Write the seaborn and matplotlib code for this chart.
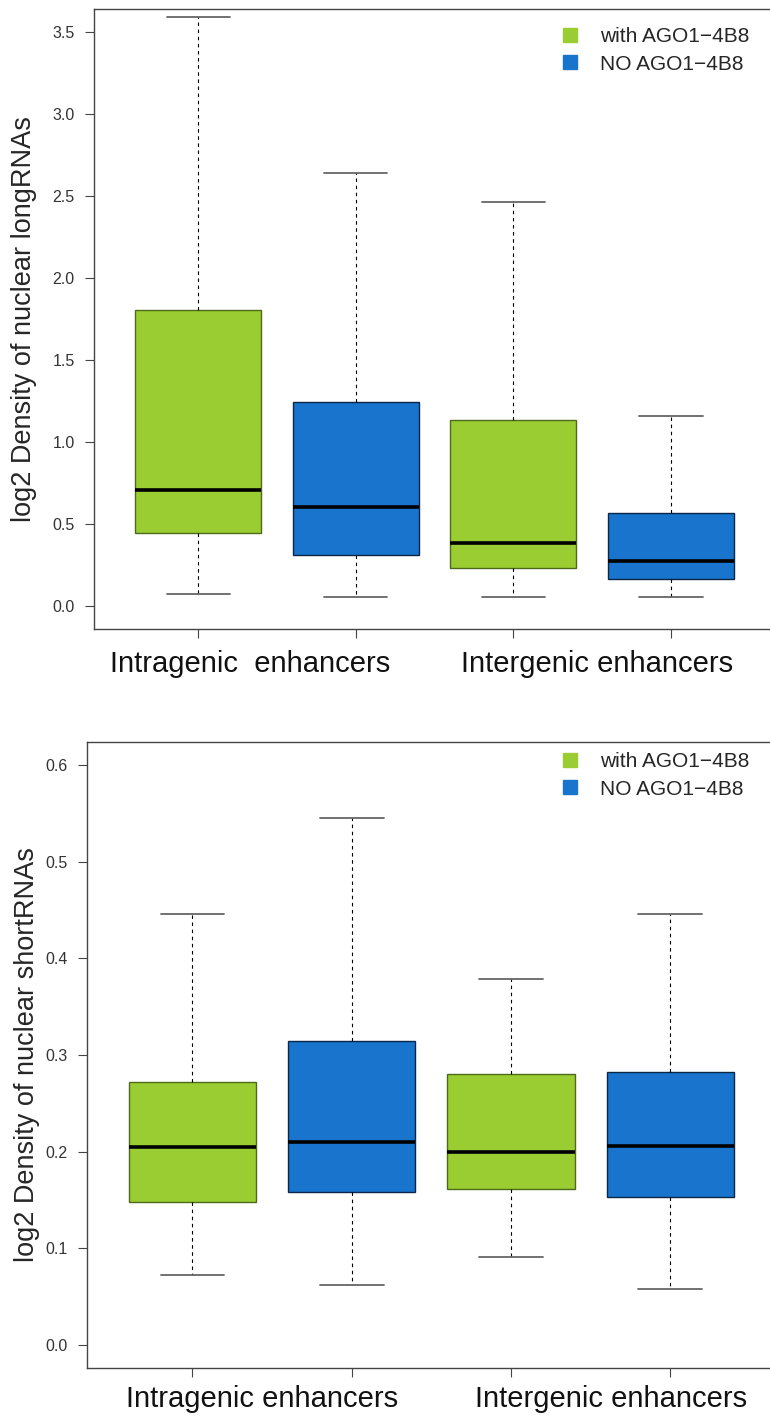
import numpy as np
import pandas as pd
import matplotlib
matplotlib.use("Agg")
import matplotlib.pyplot as plt
from matplotlib.lines import Line2D
from matplotlib.ticker import FormatStrFormatter
import seaborn as sns

# ---------------- data ----------------
boxes = ["Intragenic with", "Intragenic NO", "Intergenic with", "Intergenic NO"]
groups = ["with AGO1\u22124B8", "NO AGO1\u22124B8", "with AGO1\u22124B8", "NO AGO1\u22124B8"]
region_labels_top = ["Intragenic  enhancers", "Intergenic enhancers"]
region_labels_bottom = ["Intragenic enhancers", "Intergenic enhancers"]

long_min = [0.073, 0.055, 0.059, 0.057]
long_q1 = [0.449, 0.315, 0.234, 0.165]
long_med = [0.707, 0.604, 0.387, 0.279]
long_q3 = [1.805, 1.244, 1.136, 0.571]
long_max = [3.594, 2.643, 2.463, 1.159]

short_min = [0.072, 0.062, 0.091, 0.058]
short_q1 = [0.148, 0.158, 0.161, 0.153]
short_med = [0.205, 0.210, 0.199, 0.206]
short_q3 = [0.272, 0.314, 0.280, 0.282]
short_max = [0.446, 0.5455, 0.378, 0.446]

long_ticks = [0.0, 0.5, 1.0, 1.5, 2.0, 2.5, 3.0, 3.5]
short_ticks = [0.0, 0.1, 0.2, 0.3, 0.4, 0.5, 0.6]

GREEN = "#9ACD32"
BLUE = "#1874CD"
palette = {"with AGO1\u22124B8": GREEN, "NO AGO1\u22124B8": BLUE}
edge_for = {GREEN: "#4E6A1A", BLUE: "#0B2748"}


def summary_frame(mins, q1s, meds, q3s, maxs):
    rows = []
    for b, g, a, c, m, d, e in zip(boxes, groups, mins, q1s, meds, q3s, maxs):
        for v in (a, c, m, d, e):
            rows.append({"box": b, "group": g, "value": v})
    return pd.DataFrame(rows)


df_long = summary_frame(long_min, long_q1, long_med, long_q3, long_max)
df_short = summary_frame(short_min, short_q1, short_med, short_q3, short_max)

sns.set_theme(style="white")
plt.rcParams["font.family"] = ["Liberation Sans", "DejaVu Sans"]

fig = plt.figure(figsize=(7.7, 14.21), dpi=100)
W, H = 770.0, 1421.0


def px_axes(left, top, right, bottom):
    return fig.add_axes([left / W, 1 - bottom / H, (right - left) / W, (bottom - top) / H])


ax1 = px_axes(94.3, 9.3, 775.0, 629.3)
ax2 = px_axes(87.3, 741.7, 775.4, 1368.0)


def draw(ax, df, ylim, ticks, ylabel, labelpad, labels, label_x, label_y):
    sns.boxplot(data=df, x="box", y="value", hue="group", order=boxes,
                hue_order=list(palette.keys()), palette=palette, dodge=False,
                saturation=1, width=0.8, whis=(0, 100), linecolor="black",
                linewidth=1.0, showfliers=False, legend=False, ax=ax,
                whiskerprops={"linestyle": (0, (3.2, 3.2)), "linewidth": 0.8, "color": "black"},
                capprops={"linewidth": 1.3, "color": "#666666"},
                medianprops={"linewidth": 2.6, "color": "black"})
    for p in ax.patches:
        fc = matplotlib.colors.to_hex(p.get_facecolor()).upper()
        p.set_edgecolor(edge_for.get(fc, "black"))
        p.set_linewidth(1.0)
    ax.set_xlim(-0.66, 3.66)
    ax.set_ylim(*ylim)
    ax.set_yticks(ticks)
    ax.yaxis.set_major_formatter(FormatStrFormatter("%.1f"))
    ax.set_xticks(range(len(boxes)))
    ax.set_xticklabels([])
    ax.set_xlabel("")
    ax.set_ylabel(ylabel, fontsize=19.5, labelpad=labelpad)
    for s in ["left", "top", "bottom"]:
        ax.spines[s].set_visible(True)
        ax.spines[s].set_color("#444444")
        ax.spines[s].set_linewidth(1.0)
    ax.spines["right"].set_visible(False)
    ax.tick_params(axis="both", direction="out", length=6.5, width=0.8,
                   color="#444444", labelsize=11.5, labelcolor="#333333", pad=4,
                   left=True, bottom=True)
    ax.tick_params(axis="y", pad=7.5)
    for lab, xx in zip(labels, label_x):
        ax.text(xx, label_y, lab, transform=ax.get_xaxis_transform(),
                ha="center", va="baseline", fontsize=21, color="#111111")
    handles = [Line2D([0], [0], marker="s", linestyle="none", markersize=10,
                      markerfacecolor=c, markeredgecolor=c) for c in palette.values()]
    return handles


h = draw(ax1, df_long, (-0.14, 3.64), long_ticks, "log2 Density of nuclear longRNAs", 11,
         region_labels_top, [0.327, 2.529], -0.0689)
draw(ax2, df_short, (-0.024, 0.624), short_ticks, "log2 Density of nuclear shortRNAs", 4,
     region_labels_bottom, [0.44, 2.63], -0.0623)

for ax, top_px in ((ax1, 27.0), (ax2, 752.0)):
    ax.legend(h, list(palette.keys()), loc="upper left",
              bbox_to_anchor=(560 / W, 1 - top_px / H), bbox_transform=fig.transFigure,
              frameon=False, fontsize=15, handlelength=1.0, handletextpad=0.9,
              labelspacing=0.42, borderpad=0, borderaxespad=0)

fig.savefig("out.png", dpi=100)
